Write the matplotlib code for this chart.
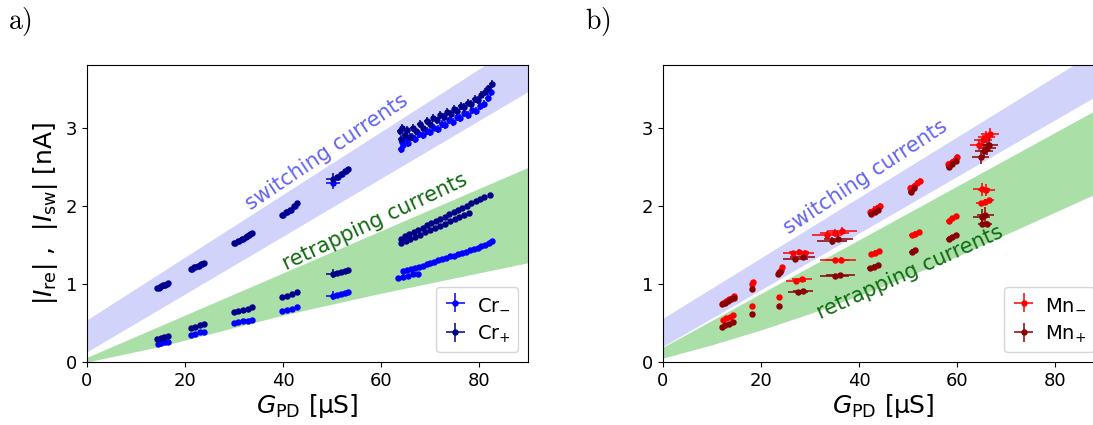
import matplotlib
matplotlib.use("Agg")
import matplotlib.pyplot as plt
import numpy as np

# ---------------- band edges (G in µS, I in nA) ----------------
band_G = [0, 90]
a_sw_upper = [0.54, 4.15]
a_sw_lower = [0.13, 3.46]
a_re_upper = [0.06, 2.49]
a_re_lower_G = [0, 15, 40, 60, 80, 90]
a_re_lower = [0.0, 0.20, 0.60, 0.88, 1.14, 1.27]

b_sw_upper = [0.56, 4.04]
b_sw_lower = [0.20, 3.46]
b_re_upper = [0.19, 3.28]
b_re_lower_G = [0, 10, 20, 30, 40, 60, 90]
b_re_lower = [0.05, 0.22, 0.41, 0.62, 0.85, 1.35, 2.20]

# ---------------- Cr sample ----------------
cr_minus_sw_G = [14.6, 15.2, 15.8, 16.4, 21.4, 22.1, 22.8, 23.5, 30.3, 31.0, 31.8, 32.6, 33.3,
                 40.0, 40.8, 41.6, 42.4, 50.2, 51.3, 52.0, 52.8,
                 64.0, 64.2, 64.5, 65.0, 65.6, 66.3, 67.0, 67.8, 68.5, 69.3, 70.0, 70.8, 71.6,
                 72.4, 73.1, 73.9, 74.7, 75.5, 76.2, 77.0, 77.8, 78.6, 79.4, 80.2, 81.0, 81.8, 82.5]
cr_minus_sw_I = [0.95, 0.97, 0.98, 1.00, 1.19, 1.21, 1.23, 1.25, 1.52, 1.55, 1.58, 1.61, 1.64,
                 1.88, 1.92, 1.95, 1.99, 2.29, 2.37, 2.40, 2.44,
                 2.72, 2.82, 2.78, 2.86, 2.80, 2.88, 2.85, 2.92, 2.90, 2.96, 2.94, 3.00, 2.98,
                 3.05, 3.03, 3.09, 3.07, 3.13, 3.12, 3.18, 3.16, 3.22, 3.21, 3.28, 3.30, 3.38, 3.45]
cr_minus_sw_dG = [0.3] * 17 + [1.5] + [0.3] * 3 + [0.5] * 27
cr_minus_sw_dI = [0.015] * 17 + [0.08] + [0.015] * 3 + [0.05] * 27

cr_plus_sw_G = [14.3, 14.9, 15.5, 16.0, 16.5, 21.2, 21.9, 22.6, 23.3, 23.9, 30.0, 30.8, 31.6, 32.4,
                33.0, 33.7, 39.8, 40.6, 41.4, 42.2, 42.9, 50.2, 51.0, 51.8, 52.6, 53.3,
                63.8, 64.0, 64.3, 64.8, 65.3, 65.9, 66.5, 67.2, 67.9, 68.6, 69.3, 70.0, 70.7,
                71.4, 72.1, 72.8, 73.5, 74.2, 74.9, 75.6, 76.3, 77.0, 77.7, 78.4, 79.1, 79.8,
                80.5, 81.2, 81.9, 82.6]
cr_plus_sw_I = [0.95, 0.96, 0.98, 0.99, 1.01, 1.19, 1.21, 1.23, 1.25, 1.27, 1.52, 1.55, 1.57, 1.60,
                1.62, 1.65, 1.88, 1.92, 1.95, 1.99, 2.03, 2.34, 2.37, 2.40, 2.44, 2.47,
                2.95, 2.85, 3.00, 2.90, 2.97, 2.88, 2.99, 2.95, 3.04, 3.00, 3.08, 3.05, 3.12,
                3.09, 3.16, 3.13, 3.20, 3.17, 3.24, 3.21, 3.28, 3.26, 3.32, 3.30, 3.37, 3.35,
                3.42, 3.45, 3.50, 3.56]
cr_plus_sw_dG = [0.3] * 21 + [1.5] + [0.3] * 4 + [0.5] * 30
cr_plus_sw_dI = [0.015] * 21 + [0.08] + [0.015] * 4 + [0.05] * 30

cr_minus_re_G = [14.5, 15.2, 15.9, 16.5, 21.2, 22.1, 23.0, 23.9, 30.0, 30.9, 31.8, 32.8, 33.7,
                 39.8, 40.8, 41.9, 42.9, 50.2, 51.0, 51.8, 52.6, 53.3,
                 63.5, 64.5, 65.5, 66.6, 67.6,
                 64.5, 65.3, 66.1, 66.9, 67.7, 68.5, 69.3, 70.1, 70.9, 71.7, 72.5, 73.3, 74.1,
                 74.9, 75.7, 76.5, 77.3, 78.1, 78.9, 79.7, 80.5, 81.3, 82.0, 82.6]
cr_minus_re_I = [0.23, 0.24, 0.25, 0.26, 0.35, 0.36, 0.38, 0.39, 0.50, 0.51, 0.52, 0.53, 0.54,
                 0.65, 0.66, 0.68, 0.70, 0.85, 0.86, 0.87, 0.88, 0.90,
                 1.08, 1.09, 1.10, 1.12, 1.13,
                 1.16, 1.18, 1.19, 1.20, 1.22, 1.23, 1.25, 1.27, 1.28, 1.30, 1.32, 1.33, 1.35,
                 1.36, 1.38, 1.40, 1.41, 1.43, 1.45, 1.46, 1.48, 1.50, 1.52, 1.55]
cr_minus_re_dG = [0.3] * 17 + [1.5] + [0.3] * 33
cr_minus_re_dI = [0.012] * 17 + [0.06] + [0.012] * 33

cr_plus_re_G = [14.3, 15.0, 15.8, 16.5, 21.2, 22.1, 23.0, 23.9, 30.0, 30.9, 31.8, 32.8, 33.7,
                39.8, 40.8, 41.9, 42.9, 50.2, 51.0, 51.8, 52.6, 53.3,
                64.0, 64.9, 65.8, 66.7, 67.6, 68.5, 69.4, 70.3, 71.2, 72.1, 73.0, 73.9, 74.8,
                75.7, 76.6, 77.5, 78.4, 79.3, 80.2, 81.1, 82.2,
                64.0, 65.0, 66.0, 67.0, 68.0, 69.0, 70.0, 71.0, 72.0, 73.0, 74.0, 75.0, 76.0,
                77.0, 78.0]
cr_plus_re_I = [0.30, 0.31, 0.32, 0.33, 0.44, 0.45, 0.47, 0.49, 0.64, 0.65, 0.67, 0.68, 0.70,
                0.83, 0.85, 0.87, 0.90, 1.13, 1.14, 1.15, 1.16, 1.18,
                1.58, 1.61, 1.64, 1.66, 1.69, 1.72, 1.75, 1.78, 1.81, 1.83, 1.86, 1.89, 1.92,
                1.95, 1.97, 2.00, 2.03, 2.06, 2.08, 2.11, 2.14,
                1.52, 1.55, 1.58, 1.60, 1.63, 1.66, 1.69, 1.72, 1.74, 1.77, 1.80, 1.83, 1.86,
                1.88, 1.91]
cr_plus_re_dG = [0.3] * 17 + [1.5] + [0.3] * 40
cr_plus_re_dI = [0.012] * 17 + [0.06] + [0.012] * 40

# ---------------- Mn sample ----------------
mn_minus_sw_G = [12.2, 12.8, 13.4, 14.0, 14.5, 18.2, 18.3, 23.6, 24.0, 24.3, 26.5, 27.8, 28.9,
                 33.5, 35.0, 36.5, 42.3, 43.0, 43.7, 44.2, 50.5, 51.2, 51.9, 52.4,
                 58.2, 58.9, 59.5, 60.0, 64.5, 65.3, 66.0, 66.7]
mn_minus_sw_I = [0.76, 0.78, 0.80, 0.82, 0.84, 1.00, 1.02, 1.15, 1.18, 1.21, 1.39, 1.41, 1.40,
                 1.63, 1.65, 1.68, 1.92, 1.95, 1.97, 1.99, 2.22, 2.25, 2.29, 2.32,
                 2.53, 2.56, 2.59, 2.62, 2.78, 2.84, 2.88, 2.92]
mn_minus_sw_dG = [0.4] * 10 + [2.0] * 3 + [3.0] * 3 + [0.5] * 12 + [1.8] * 4
mn_minus_sw_dI = [0.02] * 10 + [0.03] * 3 + [0.05] * 3 + [0.04] * 12 + [0.07] * 4

mn_plus_sw_G = [12.0, 12.6, 13.2, 13.8, 14.4, 18.2, 23.5, 23.9, 27.0, 28.5, 34.5, 35.8,
                42.5, 43.2, 43.9, 50.6, 51.3, 58.3, 59.0, 59.7, 64.8, 65.5, 66.2, 66.5]
mn_plus_sw_I = [0.74, 0.76, 0.78, 0.80, 0.82, 0.93, 1.12, 1.15, 1.32, 1.34, 1.55, 1.58,
                1.89, 1.92, 1.95, 2.18, 2.22, 2.50, 2.53, 2.57, 2.62, 2.70, 2.74, 2.78]
mn_plus_sw_dG = [0.4] * 8 + [2.5] * 2 + [3.0] * 2 + [0.5] * 8 + [1.8] * 4
mn_plus_sw_dI = [0.02] * 8 + [0.03] * 2 + [0.05] * 2 + [0.04] * 8 + [0.09] * 4

mn_minus_re_G = [12.2, 12.9, 13.6, 14.3, 18.1, 23.7, 27.2, 28.4, 35.0, 36.3,
                 42.5, 43.3, 44.0, 50.8, 51.5, 52.2, 58.3, 59.0, 59.8,
                 65.0, 66.0, 64.9, 65.8, 66.5]
mn_minus_re_I = [0.54, 0.56, 0.58, 0.60, 0.72, 0.83, 1.04, 1.06, 1.30, 1.31,
                 1.38, 1.40, 1.42, 1.62, 1.64, 1.66, 1.81, 1.84, 1.87,
                 2.21, 2.20, 2.03, 2.05, 2.07]
mn_minus_re_dG = [0.4] * 6 + [2.0] * 2 + [3.0] * 2 + [0.5] * 9 + [1.8] * 2 + [1.0] * 3
mn_minus_re_dI = [0.02] * 6 + [0.02] * 2 + [0.03] * 2 + [0.03] * 9 + [0.08] * 2 + [0.03] * 3

mn_plus_re_G = [12.0, 12.7, 13.4, 14.2, 18.2, 23.6, 27.5, 28.6, 35.0, 36.2,
                42.2, 43.0, 43.8, 50.8, 51.5, 58.3, 59.0, 59.7, 65.0, 65.8, 65.2, 66.2]
mn_plus_re_I = [0.45, 0.47, 0.49, 0.51, 0.62, 0.72, 0.90, 0.91, 1.10, 1.11,
                1.20, 1.22, 1.24, 1.41, 1.43, 1.58, 1.60, 1.62, 1.86, 1.88, 1.76, 1.77]
mn_plus_re_dG = [0.4] * 6 + [2.0] * 2 + [3.0] * 2 + [0.5] * 8 + [1.8] * 2 + [1.0] * 2
mn_plus_re_dI = [0.02] * 6 + [0.02] * 2 + [0.03] * 2 + [0.03] * 8 + [0.10] * 2 + [0.03] * 2

# ---------------- styling ----------------
col_band_sw = "#d1d3fb"
col_band_re = "#abdfa8"
col_txt_sw = "#6464f5"
col_txt_re = "#0f6a0f"
col_cr_minus = "#0000ff"
col_cr_plus = "#00008b"
col_mn_minus = "#ff0000"
col_mn_plus = "#8b0000"

tick_fs = 13
label_fs = 18
note_fs = 15
legend_fs = 14

fig = plt.figure(figsize=(10.93, 4.25), dpi=100)
W, H = 1093, 425
ax_a = fig.add_axes([87 / W, (H - 362) / H, 441 / W, 297 / H])
ax_b = fig.add_axes([663 / W, (H - 362) / H, 441 / W, 297 / H])


def bands(ax, sw_up, sw_lo, re_up, re_lo_G, re_lo):
    ax.fill_between(band_G, sw_lo, sw_up, color=col_band_sw, lw=0, zorder=0)
    Gf = np.linspace(0, 90, 200)
    ax.fill_between(Gf, np.interp(Gf, re_lo_G, re_lo), np.interp(Gf, band_G, re_up),
                    color=col_band_re, lw=0, zorder=0)


def series(ax, G, I, dG, dI, color, label=None):
    return ax.errorbar(G, I, xerr=dG, yerr=dI, fmt="o", ms=3.6, color=color,
                       ecolor=color, elinewidth=1.1, capsize=0, label=label, zorder=3)


def style(ax):
    ax.set_xlim(0, 90)
    ax.set_ylim(0, 3.8)
    ax.set_xticks([0, 20, 40, 60, 80])
    ax.set_yticks([0, 1, 2, 3])
    ax.tick_params(labelsize=tick_fs)
    ax.set_xlabel(r"$G_{\rm PD}$ [µS]", fontsize=label_fs, labelpad=2)


# panel a
bands(ax_a, a_sw_upper, a_sw_lower, a_re_upper, a_re_lower_G, a_re_lower)
series(ax_a, cr_minus_re_G, cr_minus_re_I, cr_minus_re_dG, cr_minus_re_dI, col_cr_minus)
series(ax_a, cr_plus_re_G, cr_plus_re_I, cr_plus_re_dG, cr_plus_re_dI, col_cr_plus)
h1 = series(ax_a, cr_minus_sw_G, cr_minus_sw_I, cr_minus_sw_dG, cr_minus_sw_dI, col_cr_minus,
            r"Cr$_{-}$")
h2 = series(ax_a, cr_plus_sw_G, cr_plus_sw_I, cr_plus_sw_dG, cr_plus_sw_dI, col_cr_plus,
            r"Cr$_{+}$")
style(ax_a)
ax_a.set_ylabel(r"$|I_{\rm re}|$ ,  $|I_{\rm sw}|$ [nA]", fontsize=label_fs)
ax_a.text(49.0, 2.69, "switching currents", color=col_txt_sw, fontsize=note_fs,
          rotation=34, ha="center", va="center", rotation_mode="anchor", zorder=2)
ax_a.text(58.8, 1.79, "retrapping currents", color=col_txt_re, fontsize=note_fs,
          rotation=25.3, ha="center", va="center", rotation_mode="anchor", zorder=2)
ax_a.legend(handles=[h1, h2], loc="lower right", fontsize=legend_fs, handlelength=1.2,
            handletextpad=0.5, borderaxespad=0.5)

# panel b
bands(ax_b, b_sw_upper, b_sw_lower, b_re_upper, b_re_lower_G, b_re_lower)
h3 = series(ax_b, mn_minus_sw_G, mn_minus_sw_I, mn_minus_sw_dG, mn_minus_sw_dI, col_mn_minus,
            r"Mn$_{-}$")
h4 = series(ax_b, mn_plus_sw_G, mn_plus_sw_I, mn_plus_sw_dG, mn_plus_sw_dI, col_mn_plus,
            r"Mn$_{+}$")
series(ax_b, mn_minus_re_G, mn_minus_re_I, mn_minus_re_dG, mn_minus_re_dI, col_mn_minus)
series(ax_b, mn_plus_re_G, mn_plus_re_I, mn_plus_re_dG, mn_plus_re_dI, col_mn_plus)
style(ax_b)
ax_b.text(41.4, 2.37, "switching currents", color=col_txt_sw, fontsize=note_fs,
          rotation=33.3, ha="center", va="center", rotation_mode="anchor", zorder=2)
ax_b.text(50.4, 1.14, "retrapping currents", color=col_txt_re, fontsize=note_fs,
          rotation=24.2, ha="center", va="center", rotation_mode="anchor", zorder=2)
ax_b.legend(handles=[h3, h4], loc="lower right", fontsize=legend_fs, handlelength=1.2,
            handletextpad=0.5, borderaxespad=0.5)

# panel tags
fig.text(8 / W, 1 - 22 / H, r"$\mathrm{a)}$", math_fontfamily="cm", fontsize=20, va="center")
fig.text(585 / W, 1 - 22 / H, r"$\mathrm{b)}$", math_fontfamily="cm", fontsize=20, va="center")

fig.savefig("out.png", dpi=100)
